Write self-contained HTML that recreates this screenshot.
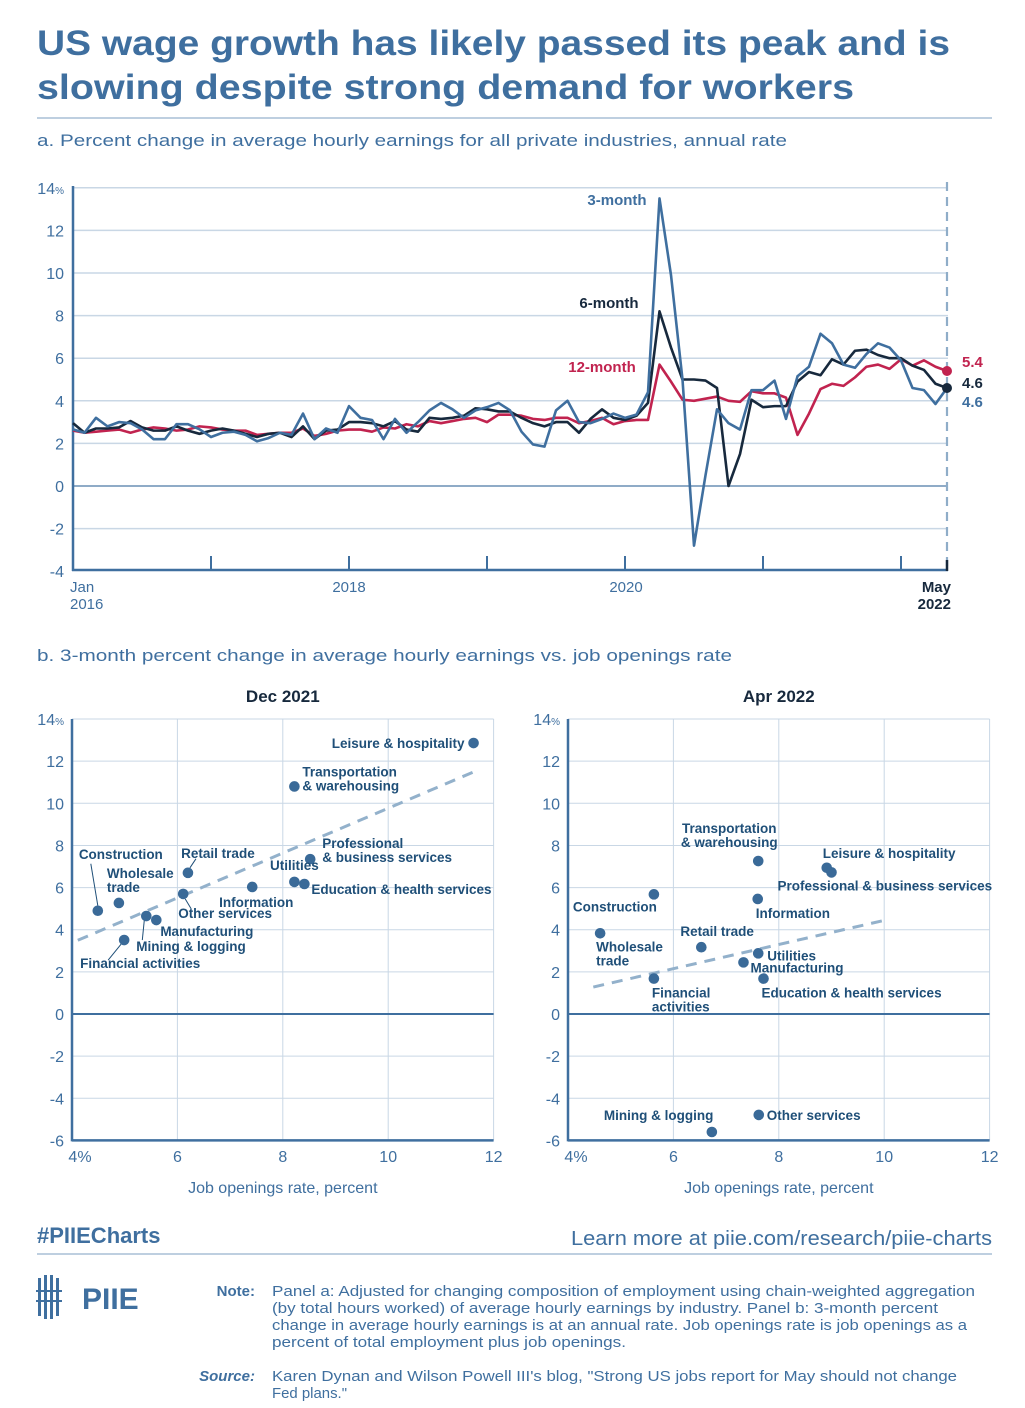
<!DOCTYPE html>
<html><head><meta charset="utf-8"><style>
body{margin:0;background:#fff}
svg{display:block;font-family:"Liberation Sans",sans-serif}
</style></head><body>
<svg id="c" width="1025" height="1408" viewBox="0 0 1025 1408">
<text x="37" y="55" font-size="35" font-weight="bold" fill="#3f6f9f" textLength="913" lengthAdjust="spacingAndGlyphs">US wage growth has likely passed its peak and is</text>
<text x="37" y="99" font-size="35" font-weight="bold" fill="#3f6f9f" textLength="817" lengthAdjust="spacingAndGlyphs">slowing despite strong demand for workers</text>
<line x1="37" y1="118" x2="992" y2="118" stroke="#a9bfd6" stroke-width="1.5"/>
<text x="37" y="146" font-size="17" fill="#3f6f9f" textLength="750" lengthAdjust="spacingAndGlyphs">a. Percent change in average hourly earnings for all private industries, annual rate</text>
<text x="37" y="661" font-size="17" fill="#3f6f9f" textLength="695" lengthAdjust="spacingAndGlyphs">b. 3-month percent change in average hourly earnings vs. job openings rate</text>
<g id="lineChart"></g>
<g id="sc1"></g>
<g id="sc2"></g>
<text x="37" y="1243" font-size="22" font-weight="bold" fill="#3f6f9f">#PIIECharts</text>
<text x="992" y="1245" font-size="20" fill="#3f6f9f" text-anchor="end" textLength="421" lengthAdjust="spacingAndGlyphs">Learn more at piie.com/research/piie-charts</text>
<line x1="37" y1="1254" x2="992" y2="1254" stroke="#a9bfd6" stroke-width="1.5"/>
<g fill="#3f6f9f">
<rect x="38" y="1278" width="3" height="38"/><rect x="44" y="1275" width="3" height="44"/><rect x="50" y="1275" width="3" height="44"/><rect x="56" y="1278" width="3" height="38"/>
<rect x="36" y="1290" width="26" height="2"/><rect x="36" y="1300" width="26" height="2"/>
<text x="82" y="1309" font-size="30" font-weight="bold">PIIE</text>
</g>
<g font-size="15" fill="#3f6f9f" lengthAdjust="spacingAndGlyphs">
<text x="255" y="1296" text-anchor="end" font-weight="bold">Note:</text>
<text x="272" y="1296" textLength="703" lengthAdjust="spacingAndGlyphs">Panel a: Adjusted for changing composition of employment using chain-weighted aggregation</text>
<text x="272" y="1313" textLength="666" lengthAdjust="spacingAndGlyphs">(by total hours worked) of average hourly earnings by industry. Panel b: 3-month percent</text>
<text x="272" y="1330" textLength="695" lengthAdjust="spacingAndGlyphs">change in average hourly earnings is at an annual rate. Job openings rate is job openings as a</text>
<text x="272" y="1347" textLength="354" lengthAdjust="spacingAndGlyphs">percent of total employment plus job openings.</text>
</g>
<g font-size="15" fill="#3f6f9f">
<text x="255" y="1381" text-anchor="end" font-weight="bold" font-style="italic">Source:</text>
<text x="272" y="1381" textLength="685" lengthAdjust="spacingAndGlyphs">Karen Dynan and Wilson Powell III's blog, "Strong US jobs report for May should not change</text>
<text x="272" y="1398" textLength="75" lengthAdjust="spacingAndGlyphs">Fed plans."</text>
</g>
</svg>
<script>
const m3=[2.66,2.5,3.2,2.8,3.0,2.95,2.66,2.2,2.2,2.9,2.9,2.66,2.3,2.5,2.55,2.4,2.1,2.25,2.5,2.4,3.4,2.2,2.7,2.5,3.75,3.2,3.1,2.2,3.15,2.5,3.0,3.55,3.9,3.6,3.2,3.55,3.7,3.9,3.55,2.55,1.95,1.85,3.55,4.0,3.0,2.95,3.15,3.4,3.2,3.35,4.4,13.5,9.9,5.0,-2.8,0.5,3.6,2.95,2.65,4.5,4.5,4.95,3.15,5.15,5.6,7.15,6.7,5.7,5.55,6.2,6.7,6.5,5.9,4.6,4.5,3.85,4.6];
const m6=[2.95,2.5,2.7,2.7,2.75,3.05,2.75,2.6,2.6,2.8,2.6,2.45,2.6,2.7,2.6,2.45,2.3,2.45,2.5,2.3,2.8,2.2,2.6,2.65,3.0,3.0,2.95,2.8,3.05,2.65,2.55,3.2,3.15,3.2,3.3,3.65,3.6,3.5,3.5,3.2,2.95,2.8,3.0,3.0,2.5,3.15,3.6,3.2,3.1,3.3,3.9,8.2,6.5,5.0,5.0,4.95,4.6,0.0,1.5,4.05,3.7,3.75,3.75,4.9,5.35,5.2,5.95,5.7,6.35,6.4,6.15,6.0,6.0,5.65,5.45,4.8,4.6];
const m12=[2.6,2.5,2.55,2.6,2.65,2.5,2.65,2.75,2.7,2.6,2.65,2.8,2.75,2.65,2.6,2.6,2.4,2.45,2.5,2.5,2.7,2.35,2.45,2.6,2.65,2.65,2.55,2.75,2.7,2.9,2.8,3.05,2.95,3.05,3.15,3.2,3.0,3.35,3.35,3.3,3.15,3.1,3.2,3.2,2.95,3.05,3.2,2.9,3.05,3.1,3.1,5.7,4.9,4.05,4.0,4.1,4.2,4.0,3.95,4.45,4.35,4.35,4.15,2.4,3.4,4.55,4.8,4.7,5.1,5.6,5.7,5.5,5.95,5.65,5.9,5.6,5.4];
const yTicks=[14,12,10,8,6,4,2,0,-2,-4];
const yearTickMonths=[12,24,36,48,60,72];

const NS="http://www.w3.org/2000/svg";
function mk(p,tag,a,txt){const e=document.createElementNS(NS,tag);for(const k in a)e.setAttribute(k,a[k]);if(txt!==undefined)e.textContent=txt;p.appendChild(e);return e;}
const BLUE="#3f6f9f",RED="#c1234f",DARK="#17293d",GRID="#c9d7e5",LBL="#1f4f78";

const L=document.getElementById('lineChart');
const lx=i=>73+i*11.5, ly=v=>486-v*21.3;
yTicks.forEach(t=>{
 if(t!==-4){const g=mk(L,'line',{x1:73,x2:948,y1:ly(t),y2:ly(t),stroke:t===0?"#7f9fbf":GRID,'stroke-width':t===0?1.8:1.5});
 }
 const tx=mk(L,'text',{x:64,y:ly(t)+6,'font-size':16,fill:BLUE,'text-anchor':'end'},String(t));
 
 if(t===14){mk(tx,'tspan',{'font-size':10},'%');}
});
let ax=mk(L,'line',{x1:73,x2:73,y1:186,y2:571,stroke:BLUE,'stroke-width':2.5});

ax=mk(L,'line',{x1:72,x2:948,y1:570,y2:570,stroke:BLUE,'stroke-width':2.5});

yearTickMonths.forEach(mo=>{const t=mk(L,'line',{x1:lx(mo),x2:lx(mo),y1:556,y2:570,stroke:BLUE,'stroke-width':2});
 });
let dl=mk(L,'line',{x1:lx(76),x2:lx(76),y1:182,y2:566,stroke:"#8fadc8",'stroke-width':2.2,'stroke-dasharray':'9,6'});

dl=mk(L,'line',{x1:lx(76),x2:lx(76),y1:560,y2:571,stroke:DARK,'stroke-width':2.5});

[[70,'Jan','2016','start',BLUE,'normal'],[349,'2018',null,'middle',BLUE,'normal'],[626,'2020',null,'middle',BLUE,'normal'],[lx(76)+4,'May','2022','end',DARK,'bold']].forEach(d=>{
 const t=mk(L,'text',{x:d[0],y:592,'font-size':15,fill:d[4],'text-anchor':d[3],'font-weight':d[5]},d[1]);
 
 if(d[2]){const t2=mk(L,'text',{x:d[0],y:609,'font-size':15,fill:d[4],'text-anchor':d[3],'font-weight':d[5]},d[2]);
 }
});
function series(arr,col,name){
 const p=mk(L,'polyline',{points:arr.map((v,i)=>lx(i)+','+ly(v)).join(' '),fill:'none',stroke:col,'stroke-width':2.6,'stroke-linejoin':'round'});
 
}
series(m12,RED,'line-12-month');series(m6,DARK,'line-6-month');series(m3,BLUE,'line-3-month');
let dt=mk(L,'circle',{cx:lx(76),cy:ly(m12[76]),r:5,fill:RED});
dt=mk(L,'circle',{cx:lx(76),cy:ly(m6[76]),r:5,fill:DARK});
[['3-month',617,205,BLUE,'label-3-month'],['6-month',609,308,DARK,'label-6-month'],['12-month',602,372,RED,'label-12-month']].forEach(d=>{
 const t=mk(L,'text',{x:d[1],y:d[2],'font-size':15,'font-weight':'bold',fill:d[3],'text-anchor':'middle'},d[0]);
 });
[[m12[76].toFixed(1),367,RED,'end-value-12-month'],[m6[76].toFixed(1),388,DARK,'end-value-6-month'],[m3[76].toFixed(1),407,BLUE,'end-value-3-month']].forEach(d=>{
 const t=mk(L,'text',{x:962,y:d[1],'font-size':15,'font-weight':'bold',fill:d[2]},d[0]);
 });

const sectors=["Leisure & hospitality","Transportation & warehousing","Professional & business services","Utilities","Education & health services","Information","Retail trade","Other services","Construction","Wholesale trade","Mining & logging","Manufacturing","Financial activities"];
const decX=[11.62,8.22,8.52,8.22,8.41,7.42,6.2,6.11,4.49,4.89,5.41,5.6,4.99];
const decY=[12.86,10.8,7.35,6.27,6.17,6.03,6.7,5.7,4.9,5.27,4.65,4.46,3.51];
const aprX=[8.91,7.61,9.0,7.61,7.71,7.6,6.53,7.62,5.63,4.61,6.73,7.33,5.63];
const aprY=[6.94,7.26,6.72,2.88,1.68,5.46,3.17,-4.79,5.68,3.83,-5.6,2.45,1.68];
const decTrendX=[4.11,11.66], decTrendY=[3.5,11.53];
const aprTrendX=[4.48,10.08], aprTrendY=[1.28,4.49];
const sXTicks=[4,6,8,10,12], sYTicks=[14,12,10,8,6,4,2,0,-2,-4,-6];
const decLab=[[["Leisure & hospitality"],-9,5,'end'],[["Transportation","& warehousing"],8,-10,'start'],[["Professional","& business services"],12,-11,'start'],[["Utilities"],0,-12,'middle'],[["Education & health services"],7,10,'start'],[["Information"],4,20,'middle'],[["Retail trade"],30,-15,'middle'],[["Other services"],-5,24,'start'],[["Construction"],23,-52,'middle'],[["Wholesale","trade"],-12,-25,'start'],[["Mining & logging"],-10,35,'start'],[["Manufacturing"],4,16,'start'],[["Financial activities"],-44,28,'start']];
const aprLab=[[["Leisure & hospitality"],-4,-10,'start'],[["Transportation","& warehousing"],-29,-28,'middle'],[["Professional & business services"],-54,18,'start'],[["Utilities"],9,7,'start'],[["Education & health services"],-2,19,'start'],[["Information"],-2,19,'start'],[["Retail trade"],-21,-11,'start'],[["Other services"],8,5,'start'],[["Construction"],-81,17,'start'],[["Wholesale","trade"],-4,18,'start'],[["Mining & logging"],-108,-12,'start'],[["Manufacturing"],7,10,'start'],[["Financial","activities"],-2,19,'start']];
// leader lines: [index, dx1, dy1, dx2, dy2] relative to point
const decLeaders=[[8,0,-5,-7,-47],[6,2,-5,8,-14],[7,2,5,8,15],[10,-2,4,-4,24],[12,-3,4,-16,20]];
function scatter(id,x0,xs,ys,tx,ty,lab,title,leaders){
 const G=document.getElementById(id);
 const sx=v=>x0+(v-4)*52.7, sy=v=>1014-v*21.07;
 sXTicks.forEach(t=>{if(t>4){const g=mk(G,'line',{x1:sx(t),x2:sx(t),y1:sy(14),y2:sy(-6),stroke:GRID,'stroke-width':1});}
  const l=mk(G,'text',{x:sx(t)+(t===4?8:0),y:1162,'font-size':16,fill:BLUE,'text-anchor':'middle'},String(t));
  if(t===4)mk(l,'tspan',{},'%');});
 sYTicks.forEach(t=>{const g=mk(G,'line',{x1:x0,x2:sx(12),y1:sy(t),y2:sy(t),stroke:t===0?BLUE:GRID,'stroke-width':t===0?2:1});
  const l=mk(G,'text',{x:x0-8,y:sy(t)+6,'font-size':16,fill:BLUE,'text-anchor':'end'},String(t));
  if(t===14)mk(l,'tspan',{'font-size':10},'%');});
 let a=mk(G,'line',{x1:x0,x2:x0,y1:sy(14),y2:sy(-6)+1,stroke:BLUE,'stroke-width':2.5});
 a=mk(G,'line',{x1:x0,x2:sx(12),y1:sy(-6),y2:sy(-6),stroke:BLUE,'stroke-width':2.5});
 const tt=mk(G,'text',{x:sx(8),y:702,'font-size':17,'font-weight':'bold',fill:DARK,'text-anchor':'middle'},title);
 const xt=mk(G,'text',{x:sx(8),y:1193,'font-size':16,fill:BLUE,'text-anchor':'middle'},'Job openings rate, percent');
 const tr=mk(G,'line',{x1:sx(tx[0]),y1:sy(ty[0]),x2:sx(tx[1]),y2:sy(ty[1]),stroke:'#93b1cb','stroke-width':3,'stroke-dasharray':'11,8'});
 leaders.forEach(d=>{const px=sx(xs[d[0]]),py=sy(ys[d[0]]);
  const ln=mk(G,'line',{x1:px+d[1],y1:py+d[2],x2:px+d[3],y2:py+d[4],stroke:LBL,'stroke-width':1});
  });
 xs.forEach((v,i)=>{const c=mk(G,'circle',{cx:sx(v),cy:sy(ys[i]),r:5.3,fill:'#3a6a98'});
  const L2=lab[i];const t=mk(G,'text',{x:sx(v)+L2[1],y:sy(ys[i])+L2[2],'font-size':13.5,fill:LBL,'text-anchor':L2[3],'font-weight':'bold'});
  
  L2[0].forEach((s,k)=>mk(t,'tspan',{x:sx(v)+L2[1],dy:k?14:0},s));});
}
scatter('sc1',72,decX,decY,decTrendX,decTrendY,decLab,'Dec 2021',decLeaders);
scatter('sc2',568,aprX,aprY,aprTrendX,aprTrendY,aprLab,'Apr 2022',[]);
</script>
</body></html>
